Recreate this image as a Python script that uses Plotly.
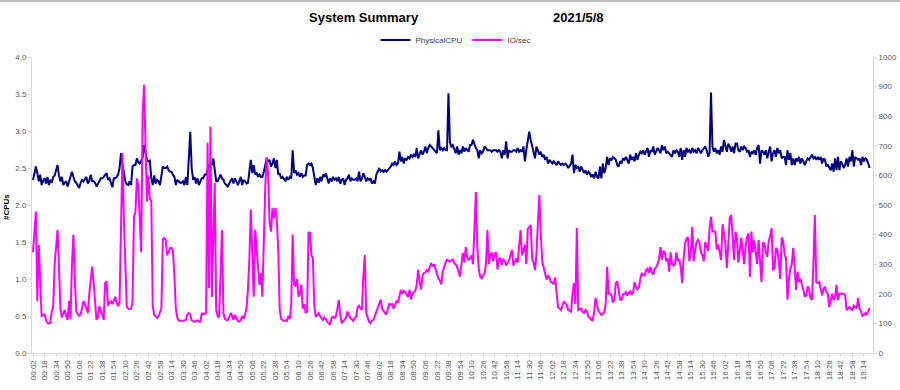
import plotly.graph_objects as go

TITLE_LEFT = "System Summary"
TITLE_RIGHT = "2021/5/8"
SERIES_NAMES = ["PhysicalCPU", "IO/sec"]

# tick labels (every 8th sample, 16-minute spacing); samples every 2 minutes from 00:02
TICK_LABELS = [
    "00:02", "00:18", "00:34", "00:50", "01:06", "01:22", "01:38", "01:54", "02:10", "02:26",
    "02:42", "02:58", "03:14", "03:30", "03:46", "04:02", "04:18", "04:34", "04:50", "05:06",
    "05:22", "05:38", "05:54", "06:10", "06:26", "06:42", "06:58", "07:14", "07:30", "07:46",
    "08:02", "08:18", "08:34", "08:50", "09:06", "09:22", "09:38", "09:54", "10:10", "10:26",
    "10:42", "10:58", "11:14", "11:30", "11:46", "12:02", "12:18", "12:34", "12:50", "13:06",
    "13:22", "13:38", "13:54", "14:10", "14:26", "14:42", "14:58", "15:14", "15:30", "15:46",
    "16:02", "16:18", "16:34", "16:50", "17:06", "17:22", "17:38", "17:54", "18:10", "18:26",
    "18:42", "18:58", "19:14",
]
LABEL_EVERY = 8

PHYSICAL_CPU = [
    2.34, 2.45, 2.52, 2.43, 2.32, 2.41, 2.27, 2.33,
    2.36, 2.29, 2.38, 2.27, 2.34, 2.30, 2.38, 2.40,
    2.47, 2.54, 2.40, 2.32, 2.38, 2.27, 2.30, 2.32,
    2.25, 2.32, 2.36, 2.45, 2.38, 2.32, 2.30, 2.27,
    2.23, 2.30, 2.34, 2.32, 2.36, 2.38, 2.29, 2.33,
    2.41, 2.32, 2.32, 2.30, 2.25, 2.28, 2.32, 2.36,
    2.36, 2.38, 2.40, 2.43, 2.34, 2.36, 2.30, 2.24,
    2.36, 2.36, 2.38, 2.41, 2.50, 2.70, 2.56, 2.45,
    2.32, 2.28, 2.27, 2.32, 2.27, 2.52, 2.54, 2.54,
    2.63, 2.58, 2.56, 2.60, 2.65, 2.81, 2.70, 2.61,
    2.59, 2.60, 2.36, 2.27, 2.40, 2.29, 2.34, 2.32,
    2.27, 2.41, 2.52, 2.50, 2.50, 2.52, 2.47, 2.45,
    2.45, 2.41, 2.38, 2.27, 2.34, 2.32, 2.30, 2.30,
    2.32, 2.27, 2.38, 2.27, 2.60, 2.99, 2.50, 2.34,
    2.38, 2.29, 2.36, 2.27, 2.32, 2.36, 2.36, 2.41,
    2.41, 2.47, 2.54, 2.56, 2.54, 2.63, 2.50, 2.32,
    2.32, 2.36, 2.41, 2.36, 2.34, 2.29, 2.27, 2.25,
    2.29, 2.32, 2.36, 2.29, 2.36, 2.32, 2.27, 2.32,
    2.38, 2.27, 2.34, 2.32, 2.29, 2.30, 2.45, 2.61,
    2.43, 2.54, 2.41, 2.43, 2.38, 2.41, 2.38, 2.38,
    2.45, 2.55, 2.63, 2.59, 2.61, 2.52, 2.56, 2.63,
    2.50, 2.61, 2.41, 2.43, 2.36, 2.38, 2.34, 2.32,
    2.38, 2.34, 2.38, 2.36, 2.74, 2.43, 2.47, 2.41,
    2.43, 2.38, 2.43, 2.38, 2.40, 2.40, 2.54, 2.56,
    2.54, 2.56, 2.50, 2.36, 2.27, 2.36, 2.30, 2.38,
    2.32, 2.41, 2.38, 2.43, 2.34, 2.29, 2.36, 2.32,
    2.38, 2.34, 2.36, 2.32, 2.38, 2.29, 2.34, 2.36,
    2.27, 2.34, 2.36, 2.41, 2.32, 2.36, 2.34, 2.34,
    2.36, 2.32, 2.45, 2.32, 2.36, 2.43, 2.38, 2.32,
    2.36, 2.34, 2.36, 2.29, 2.32, 2.29, 2.41, 2.45,
    2.50, 2.45, 2.47, 2.45, 2.47, 2.45, 2.47, 2.50,
    2.52, 2.56, 2.54, 2.59, 2.54, 2.56, 2.72, 2.59,
    2.65, 2.56, 2.63, 2.61, 2.65, 2.63, 2.68, 2.65,
    2.68, 2.65, 2.77, 2.63, 2.70, 2.74, 2.68, 2.72,
    2.79, 2.70, 2.77, 2.81, 2.79, 2.77, 2.74, 2.72,
    2.70, 3.01, 2.74, 2.77, 2.74, 2.77, 2.74, 2.74,
    3.51, 2.85, 2.79, 2.81, 2.74, 2.70, 2.79, 2.68,
    2.74, 2.70, 2.79, 2.72, 2.77, 2.74, 2.72, 2.81,
    2.81, 2.88, 2.81, 2.77, 2.74, 2.63, 2.74, 2.70,
    2.72, 2.79, 2.77, 2.74, 2.74, 2.74, 2.72, 2.74,
    2.74, 2.74, 2.72, 2.74, 2.72, 2.63, 2.74, 2.68,
    2.86, 2.63, 2.74, 2.72, 2.72, 2.74, 2.74, 2.72,
    2.77, 2.72, 2.74, 2.72, 2.79, 2.59, 2.75, 2.90,
    2.99, 2.88, 2.79, 2.70, 2.63, 2.79, 2.72, 2.68,
    2.72, 2.65, 2.68, 2.61, 2.65, 2.56, 2.61, 2.59,
    2.56, 2.59, 2.56, 2.54, 2.59, 2.56, 2.54, 2.56,
    2.54, 2.56, 2.54, 2.50, 2.54, 2.56, 2.68, 2.43,
    2.54, 2.50, 2.52, 2.45, 2.52, 2.47, 2.43, 2.47,
    2.41, 2.45, 2.43, 2.38, 2.41, 2.36, 2.45, 2.38,
    2.36, 2.52, 2.36, 2.56, 2.43, 2.50, 2.65, 2.54,
    2.63, 2.61, 2.65, 2.63, 2.61, 2.54, 2.52, 2.59,
    2.56, 2.63, 2.61, 2.65, 2.61, 2.56, 2.68, 2.61,
    2.65, 2.59, 2.70, 2.61, 2.68, 2.72, 2.70, 2.74,
    2.68, 2.72, 2.77, 2.65, 2.74, 2.72, 2.79, 2.68,
    2.74, 2.77, 2.74, 2.70, 2.81, 2.74, 2.79, 2.70,
    2.72, 2.70, 2.68, 2.65, 2.74, 2.70, 2.74, 2.72,
    2.65, 2.77, 2.61, 2.74, 2.65, 2.77, 2.72, 2.74,
    2.70, 2.77, 2.72, 2.74, 2.70, 2.77, 2.74, 2.70,
    2.74, 2.77, 2.79, 2.74, 2.65, 2.70, 3.52, 2.79,
    2.72, 2.77, 2.70, 2.74, 2.68, 2.79, 2.72, 2.88,
    2.79, 2.72, 2.83, 2.79, 2.72, 2.79, 2.70, 2.83,
    2.83, 2.74, 2.72, 2.79, 2.74, 2.79, 2.77, 2.72,
    2.74, 2.65, 2.72, 2.70, 2.74, 2.68, 2.77, 2.81,
    2.56, 2.74, 2.72, 2.68, 2.74, 2.63, 2.72, 2.79,
    2.59, 2.70, 2.74, 2.65, 2.77, 2.70, 2.74, 2.63,
    2.65, 2.65, 2.54, 2.74, 2.61, 2.70, 2.54, 2.63,
    2.54, 2.63, 2.59, 2.65, 2.56, 2.63, 2.59, 2.54,
    2.59, 2.63, 2.61, 2.65, 2.68, 2.63, 2.65, 2.61,
    2.65, 2.61, 2.65, 2.56, 2.63, 2.61, 2.52, 2.54,
    2.50, 2.47, 2.56, 2.45, 2.63, 2.47, 2.65, 2.47,
    2.59, 2.56, 2.50, 2.54, 2.63, 2.52, 2.65, 2.59,
    2.74, 2.52, 2.65, 2.63, 2.61, 2.63, 2.54, 2.65,
    2.59, 2.63, 2.61, 2.56, 2.50,
]

IO_PER_SEC = [
    340, 430, 478, 175, 365, 240, 125, 128,
    130, 112, 101, 99, 102, 140, 155, 300,
    370, 415, 290, 150, 120, 130, 145, 125,
    112, 175, 115, 300, 399, 250, 140, 132,
    125, 130, 150, 175, 165, 150, 135, 200,
    250, 292, 240, 180, 112, 120, 158, 140,
    130, 112, 236, 242, 160, 170, 175, 165,
    180, 190, 170, 158, 170, 420, 675, 450,
    300, 155, 150, 148, 150, 175, 460, 475,
    590, 565, 450, 340, 810, 905, 700, 512,
    600, 520, 515, 160, 130, 122, 118, 125,
    135, 150, 385, 388, 380, 330, 340, 355,
    355, 345, 260, 150, 120, 110, 108, 108,
    108, 110, 112, 130, 135, 130, 110, 108,
    105, 108, 110, 106, 105, 135, 130, 132,
    135, 710, 219, 764, 189, 400, 574, 145,
    125, 120, 280, 415, 135, 115, 112, 110,
    120, 135, 125, 112, 128, 118, 108, 106,
    110, 125, 115, 130, 150, 215, 320, 485,
    300, 190, 416, 340, 290, 230, 270, 190,
    420, 560, 662, 600, 440, 410, 490, 455,
    490, 450, 350, 150, 115, 110, 108, 110,
    108, 125, 115, 160, 400, 230, 225, 250,
    190, 200, 230, 150, 165, 135, 140, 409,
    405, 330, 322, 160, 122, 128, 135, 125,
    118, 112, 120, 115, 105, 98, 95, 120,
    122, 118, 125, 150, 179, 130, 100, 108,
    112, 120, 140, 125, 118, 112, 108, 118,
    122, 155, 160, 150, 148, 260, 331, 135,
    115, 105, 100, 110, 112, 125, 135, 150,
    165, 180, 150, 140, 135, 130, 150, 168,
    162, 165, 150, 160, 175, 170, 190, 213,
    200, 210, 205, 195, 190, 213, 180, 200,
    205, 210, 230, 282, 240, 215, 262, 270,
    272, 280, 275, 290, 304, 292, 300, 285,
    268, 252, 245, 232, 275, 295, 305, 315,
    312, 308, 312, 315, 302, 300, 290, 270,
    258, 300, 338, 305, 358, 322, 315, 320,
    330, 300, 420, 544, 360, 285, 258, 252,
    262, 268, 300, 415, 300, 330, 340, 310,
    335, 340, 282, 318, 320, 298, 315, 310,
    296, 305, 312, 330, 348, 295, 305, 320,
    305, 360, 415, 330, 348, 366, 300, 420,
    425, 432, 320, 305, 280, 335, 440, 534,
    400, 310, 290, 265, 248, 260, 255, 240,
    238, 232, 255, 200, 155, 150, 145, 160,
    175, 168, 162, 145, 142, 140, 200, 236,
    165, 422, 145, 148, 150, 138, 135, 145,
    140, 122, 120, 112, 110, 140, 186, 160,
    142, 135, 128, 132, 138, 165, 291, 200,
    200, 195, 170, 180, 236, 242, 200, 180,
    180, 198, 200, 205, 194, 200, 210, 196,
    205, 240, 222, 215, 222, 250, 270, 262,
    262, 280, 285, 270, 291, 272, 265, 285,
    290, 300, 320, 358, 315, 345, 338, 310,
    320, 275, 340, 300, 295, 300, 340, 310,
    315, 290, 236, 320, 370, 385, 392, 310,
    340, 426, 310, 345, 375, 382, 372, 340,
    330, 310, 375, 360, 345, 420, 460, 410,
    412, 408, 350, 366, 340, 314, 435, 400,
    370, 287, 380, 455, 466, 400, 314, 410,
    385, 305, 350, 390, 345, 300, 360, 392,
    404, 257, 410, 340, 380, 345, 300, 382,
    300, 240, 372, 370, 340, 325, 378, 395,
    422, 282, 285, 355, 348, 310, 250, 390,
    380, 332, 320, 180, 250, 285, 300, 355,
    290, 213, 275, 240, 250, 225, 213, 190,
    195, 225, 213, 185, 180, 300, 466, 240,
    236, 240, 210, 195, 218, 222, 205, 200,
    155, 175, 200, 178, 190, 230, 179, 200,
    200, 198, 200, 195, 145, 150, 155, 148,
    145, 160, 155, 150, 185, 150, 140, 125,
    128, 135, 130, 140, 152,
]

FONT = "Liberation Sans, Arial, sans-serif"
AX_COLOR = "#d9d9d9"
TXT_COLOR = "#595959"

W, H = 900, 390
ML, MR, MT, MB = 32, 27, 57, 37
PW, PH = W - ML - MR, H - MT - MB


def px_x(p):
    return (p - ML) / PW


def px_y(p):
    return (H - MB - p) / PH


fig = go.Figure()
fig.add_trace(go.Scatter(
    x=list(range(len(PHYSICAL_CPU))), y=PHYSICAL_CPU, name=SERIES_NAMES[0],
    mode="lines", line=dict(color="#000080", width=2), yaxis="y",
))
fig.add_trace(go.Scatter(
    x=list(range(len(IO_PER_SEC))), y=IO_PER_SEC, name=SERIES_NAMES[1],
    mode="lines", line=dict(color="#FF00FF", width=2), yaxis="y2",
))

tickvals = [i * LABEL_EVERY for i in range(len(TICK_LABELS))]

fig.update_layout(
    width=W, height=H,
    margin=dict(l=ML, r=MR, t=MT, b=MB, autoexpand=False),
    paper_bgcolor="white", plot_bgcolor="white",
    font=dict(family=FONT, color=TXT_COLOR, size=8),
    showlegend=True,
    legend=dict(orientation="h", x=px_x(456), xanchor="center", y=px_y(40), yanchor="middle",
                font=dict(size=8, color="#404040", family=FONT), itemwidth=30,
                bgcolor="rgba(0,0,0,0)", tracegroupgap=0),
    xaxis=dict(range=[-0.7, 582.3], tickmode="array", tickvals=tickvals, ticktext=TICK_LABELS,
               tickangle=-90, tickfont=dict(size=8, color=TXT_COLOR, family=FONT),
               showline=True, linecolor=AX_COLOR, linewidth=1, ticks="outside", ticklen=3,
               tickcolor=AX_COLOR, showgrid=False, zeroline=False, automargin=False),
    yaxis=dict(range=[0, 4], dtick=0.5, tickformat=".1f",
               tickfont=dict(size=8, color=TXT_COLOR, family=FONT),
               showline=True, linecolor=AX_COLOR, linewidth=1, ticks="outside", ticklen=3,
               tickcolor=AX_COLOR, showgrid=False, zeroline=False, automargin=False),
    yaxis2=dict(range=[0, 1000], dtick=100, overlaying="y", side="right",
                tickfont=dict(size=8, color=TXT_COLOR, family=FONT),
                showline=True, linecolor=AX_COLOR, linewidth=1, ticks="outside", ticklen=3,
                tickcolor=AX_COLOR, showgrid=False, zeroline=False, automargin=False),
    annotations=[
        dict(text="<b>" + TITLE_LEFT + "</b>", xref="paper", yref="paper",
             x=px_x(364), y=px_y(18), xanchor="center", yanchor="middle", showarrow=False,
             font=dict(size=13, color="black", family=FONT)),
        dict(text="<b>" + TITLE_RIGHT + "</b>", xref="paper", yref="paper",
             x=px_x(578), y=px_y(18), xanchor="center", yanchor="middle", showarrow=False,
             font=dict(size=13, color="black", family=FONT)),
        dict(text="<b>#CPUs</b>", xref="paper", yref="paper",
             x=px_x(6), y=px_y(207), xanchor="center", yanchor="middle", showarrow=False,
             textangle=-90, font=dict(size=8, color="black", family=FONT)),
    ],
    shapes=[
        dict(type="line", xref="paper", yref="paper", x0=px_x(0), x1=px_x(W), y0=px_y(1), y1=px_y(1),
             line=dict(color="#bfbfbf", width=2)),
    ],
)

fig.write_html(
    "out.html",
    config={"displayModeBar": False},
    post_script="document.body.style.margin='0';document.body.style.padding='0';"
                "document.body.style.overflow='hidden';",
)
